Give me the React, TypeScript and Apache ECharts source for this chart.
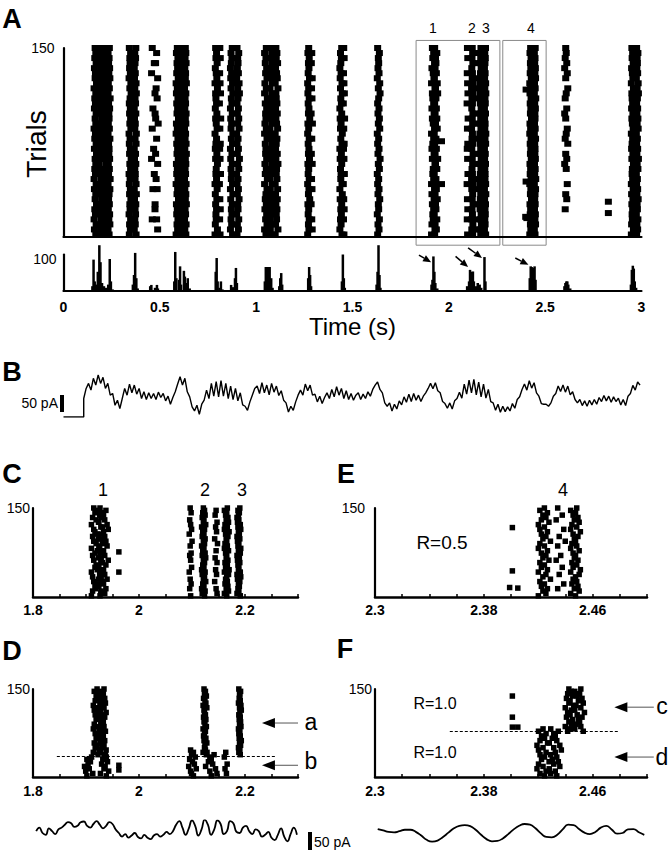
import React, { useEffect, useRef } from "react";
import * as echarts from "echarts";

const FONT = "'Liberation Sans', Arial, Helvetica, sans-serif";

// ---------- tick labels ----------
const A_TIME_INTERVAL = 0.5;
const C_TICK_LABELS = [1.8, 2, 2.2];
const E_TICK_LABELS = [2.3, 2.38, 2.46];

// ---------- hand-read jitter patterns (digit 0..9 = left..right, "." = no spike) ----------
const S0 = "4637254816" + "3527461537" + "2846351726" + "48351726";
const S1 = "5274638152" + "7364925173" + "6482537164" + "92537461";
const S2 = "3648257193" + "4627358164" + "2739546182" + "73645291";
const S3 = "6153748261" + "9374526183" + "5472639185" + "36274815";
const S4 = "2745361849" + "5263748152" + "6394715263" + "84517362";
const S5 = "7364152839" + "4617253948" + "1627354819" + "27463518";
const P0 = "4.6..3.5.7" + ".2..8.4..6" + "3.5..7.2.." + "4.6.3..5";
const P1 = ".5.3..7.4." + "6..2.8..5." + ".3.7..4.6." + ".2..5.7.";
const P2 = "3..6.2...7" + "..4.8.3..." + "5.2..6..4." + "..7.3...";
const U0 = "4536274.85" + "3.624.7538" + ".4625..7.4" + "6.3.....";

// raster columns: [centre time (s), half spread (s), pattern, top trial, bottom trial]
type Col = [number, number, string, number, number];
const A_COLS: Col[] = [
  [0.165, 0.008, S0, 150, 1], [0.19, 0.008, S1, 150, 1], [0.213, 0.008, S2, 150, 1], [0.236, 0.006, S3, 150, 1],
  [0.345, 0.006, S4, 150, 1], [0.372, 0.006, S5, 150, 1],
  [0.466, 0.016, P2, 150, 1], [0.482, 0.012, P1, 150, 1],
  [0.59, 0.007, S1, 150, 1], [0.612, 0.007, S3, 150, 1], [0.633, 0.006, S0, 150, 1],
  [0.792, 0.007, S2, 150, 1], [0.812, 0.005, P0, 150, 1],
  [0.872, 0.007, S5, 150, 1], [0.905, 0.008, S4, 150, 1],
  [1.05, 0.008, S3, 150, 1], [1.078, 0.008, S0, 150, 1], [1.105, 0.008, S2, 150, 1],
  [1.272, 0.006, S1, 150, 1], [1.288, 0.005, P1, 150, 1],
  [1.44, 0.007, S5, 150, 1], [1.455, 0.005, P0, 150, 1],
  [1.635, 0.008, S4, 150, 1],
  [1.918, 0.01, S2, 150, 1], [1.932, 0.01, S4, 150, 1],
  [2.097, 0.004, P0, 150, 1], [2.122, 0.005, S0, 150, 1], [2.145, 0.004, P1, 150, 1],
  [2.165, 0.005, S3, 150, 1], [2.188, 0.004, S5, 150, 1],
  [2.424, 0.005, S1, 150, 1], [2.436, 0.005, P2, 150, 1], [2.447, 0.004, S3, 150, 1],
  [2.608, 0.012, U0, 150, 1],
  [2.952, 0.006, S2, 150, 1], [2.978, 0.006, S4, 150, 1],
];
const A_STRAYS: [number, number][] = [
  [1.962, 76], [1.962, 42], [2.401, 117], [2.401, 44], [2.399, 16], [2.405, 15], [2.828, 28], [2.828, 19],
];

const D_COLS: Col[] = [
  [1.92, 0.008, S1, 150, 37], [1.932, 0.006, S3, 150, 37], [2.124, 0.004, S2, 150, 37], [2.19, 0.003, S4, 150, 37],
  [1.905, 0.01, S5, 34, 1], [1.935, 0.01, S0, 38, 1], [2.1, 0.008, S2, 46, 1], [2.135, 0.012, S4, 42, 1],
  [2.163, 0.006, P1, 46, 1],
];
const D_STRAYS: [number, number][] = [[1.962, 20], [1.962, 12]];

const F_COLS: Col[] = [
  [2.443, 0.004, S0, 150, 76], [2.45, 0.004, S3, 150, 76], [2.423, 0.005, S1, 82, 1], [2.432, 0.005, S4, 82, 1],
];
const F_STRAYS: [number, number][] = [[2.401, 138], [2.401, 102], [2.401, 85], [2.405, 85]];

// PSTH: [time (s), count]
const HIST: [number, number][] = [
  [0.15, 15], [0.156, 98], [0.162, 30], [0.17, 20], [0.178, 60], [0.186, 143], [0.192, 90], [0.2, 25], [0.21, 15],
  [0.22, 10], [0.232, 20], [0.24, 100], [0.246, 30], [0.255, 5],
  [0.36, 20], [0.366, 50], [0.372, 119], [0.378, 40], [0.385, 8],
  [0.45, 15], [0.456, 19], [0.475, 10], [0.485, 19], [0.49, 8],
  [0.575, 30], [0.58, 122], [0.586, 40], [0.6, 35], [0.605, 77], [0.61, 20], [0.625, 63], [0.63, 45], [0.64, 25],
  [0.645, 40], [0.655, 8],
  [0.79, 60], [0.795, 103], [0.8, 30], [0.81, 10], [0.817, 30], [0.825, 5],
  [0.87, 19], [0.88, 12], [0.89, 40], [0.895, 72], [0.9, 25],
  [1.045, 30], [1.05, 75], [1.055, 50], [1.06, 75], [1.065, 60], [1.07, 75], [1.078, 40], [1.085, 10],
  [1.12, 15], [1.125, 40], [1.13, 56], [1.135, 20],
  [1.27, 40], [1.275, 75], [1.28, 50], [1.285, 15],
  [1.445, 30], [1.45, 114], [1.455, 40], [1.46, 10],
  [1.625, 20], [1.63, 60], [1.635, 143], [1.64, 50], [1.645, 10],
  [1.91, 20], [1.915, 35], [1.92, 108], [1.925, 60], [1.93, 25], [1.94, 8],
  [2.095, 15], [2.105, 30], [2.11, 66], [2.115, 60], [2.12, 45], [2.125, 61], [2.13, 30], [2.14, 15], [2.15, 25],
  [2.16, 20], [2.168, 10], [2.185, 106], [2.19, 30],
  [2.42, 40], [2.425, 77], [2.43, 75], [2.435, 70], [2.44, 72], [2.445, 77], [2.45, 35],
  [2.6, 15], [2.605, 25], [2.61, 30], [2.615, 30], [2.62, 20], [2.63, 8],
  [2.828, 3],
  [2.945, 20], [2.95, 66], [2.955, 79], [2.96, 70], [2.965, 30], [2.972, 10],
];
// arrows on PSTH: [t0, n0, t1, n1]
const HIST_ARROWS: [number, number, number, number][] = [
  [1.845, 112, 1.908, 90], [2.035, 108, 2.1, 75], [2.1, 135, 2.172, 103], [2.345, 103, 2.413, 82],
];

// ---------- current traces (pA) ----------
const B_BASELINE: [number, number][] = [[0, 0], [0.105, 0]];
const B_T0 = 0.105;
const B_DT = 0.0125;
const TRACE_B = [
  55, 85, 100, 80, 115, 95, 125, 100, 118, 85, 100, 65, 70, 35, 50, 25, 55,
  85, 65, 98, 72, 95, 68, 85, 55, 75, 52, 72, 55, 70, 52, 74, 58, 70, 48, 62, 38, 58,
  75, 98, 120, 95, 115, 75, 60, 30, 18, 35, 8, 38,
  50, 80, 55, 100, 62, 105, 60, 108, 62, 100, 55, 92, 52, 85, 48, 72, 36, 32, 20, 45,
  65, 85, 92, 70, 102, 72, 95, 66, 100, 74, 92, 64, 78, 50, 42, 15, 32, 20,
  45, 65, 80, 65, 98, 78, 95, 65, 68, 45, 62, 40, 58,
  72, 55, 82, 60, 90, 65, 85, 55, 78, 52, 70, 50, 65, 72, 52, 68, 55, 75, 62, 82, 95, 104, 82,
  72, 42, 32, 42, 18, 38, 24, 48, 36, 60, 44, 68, 46, 70, 50, 65, 46, 62, 72, 85, 100, 84, 102, 78,
  72, 46, 40, 26, 42, 24, 48, 55, 74, 56, 98, 68, 110, 72, 112, 66, 104, 60, 98, 56, 82, 46,
  42, 20, 38, 14, 32, 16, 30, 18, 40, 26, 52, 60, 82, 98, 80, 108, 86, 102, 72,
  62, 40, 38, 38, 32, 42, 62, 70, 92, 76, 95, 74, 92, 66, 75,
  52, 42, 52, 34, 48, 32, 50, 36, 52, 38, 58, 46, 64, 48, 62, 44, 60, 46, 56, 36, 52, 34, 62,
  70, 94, 80, 104, 95,
];
const L_T0 = 1.806;
const L_DT = 0.006;
const TRACE_L = [
  30, 40, 25, 20, 38, 30, 22, 35,
  40, 48, 55, 52, 42, 45, 55, 57, 45, 40, 50, 58, 48, 38, 45, 55, 50, 35, 25,
  15, 22, 12, 18, 25, 14, 10, 20, 12, 8, 18, 22, 15, 20, 28, 22,
  30, 48, 58, 40, 20, 38, 60, 45, 18, 35, 62, 48, 20, 35, 60, 50, 22, 30, 58, 52, 28, 25,
  40, 45, 30, 22, 35, 30, 15, 20, 28, 12,
  5, 20, 38, 15, 2, 22, 40, 20,
];
const R_T0 = 2.302;
const R_DT = 0.004;
const TRACE_R = [
  36, 32, 28, 27, 30, 34, 34, 28, 18, 6, 1, 4, 14, 26, 38, 45, 47, 44, 34, 20, 8, 2, 3, 10, 22,
  35, 45, 50, 48, 38, 24, 14, 13, 20, 35, 48, 47, 36, 26, 22, 28, 40, 45, 35, 23, 25, 35, 36, 27, 20,
];

// ---------- helpers ----------
function raster(cols: Col[], strays: [number, number][], tMin: number, tMax: number) {
  const pts: number[][] = [];
  for (const [t, spread, pat, top, bottom] of cols) {
    for (let i = 0; i < pat.length; i++) {
      const trial = top - 4 * i;
      if (trial < bottom) break;
      const ch = pat[i];
      if (ch === ".") continue;
      const x = t + ((Number(ch) - 4.5) / 4.5) * spread;
      if (x >= tMin && x <= tMax) pts.push([x, trial]);
    }
  }
  for (const [t, trial] of strays) if (t >= tMin && t <= tMax) pts.push([t, trial]);
  return pts;
}
const sampled = (t0: number, dt: number, vals: number[]) => vals.map((v, i) => [t0 + dt * i, v]);
const labelOnly = (labels: number[]) => (v: number) =>
  labels.some((l) => Math.abs(l - v) < 1e-6) ? String(+v.toFixed(2)) : "";

const BLACK = "#000";

function rasterY(gridIndex: number, margin: number) {
  return {
    type: "value", gridIndex, min: 0, max: 150, interval: 150, position: "left",
    axisLine: { show: true, onZero: false, lineStyle: { color: BLACK, width: 2.2 } },
    axisTick: { show: false }, splitLine: { show: false },
    axisLabel: { formatter: (v: number) => (v === 150 ? "150" : ""), fontSize: 14, color: BLACK, margin, fontFamily: FONT },
  };
}
function zoomX(gridIndex: number, min: number, max: number, interval: number, labels: number[], margin: number) {
  return {
    type: "value", gridIndex, min, max, interval,
    axisLine: { show: true, onZero: false, lineStyle: { color: BLACK, width: 2.5 } },
    axisTick: { show: true, inside: true, length: 3, lineStyle: { color: BLACK, width: 1.5 } },
    splitLine: { show: false },
    axisLabel: { formatter: labelOnly(labels), fontSize: 14, fontWeight: "bold", color: BLACK, margin, fontFamily: FONT },
  };
}
const hiddenAxis = (gridIndex: number, min: number, max: number) => ({
  type: "value", gridIndex, min, max, show: false, splitLine: { show: false },
});
const rasterSeries = (idx: number, data: number[][], size: number[] | number, extra: any = {}) => ({
  type: "scatter", xAxisIndex: idx, yAxisIndex: idx, data, symbol: "rect", symbolSize: size,
  itemStyle: { color: BLACK, opacity: 1 }, silent: true, ...extra,
});
const dashLine = (t0: number, t1: number, trial: number) => ({
  silent: true, symbol: "none", label: { show: false },
  lineStyle: { color: BLACK, type: [3, 2], width: 1.2 },
  data: [[{ coord: [t0, trial] }, { coord: [t1, trial] }]],
});
const gridAt = (left: number, top: number, width: number, height: number) => ({
  left, top, width, height, containLabel: false, outerBoundsMode: "none",
});

export default function App() {
  const ref = useRef<HTMLDivElement>(null);
  useEffect(() => {
    document.body.style.margin = "0";
    const chart = echarts.init(ref.current!, null, { renderer: "svg" });
    const option: any = {
      animation: false,
      textStyle: { fontFamily: FONT },
      grid: [
        gridAt(63.5, 48, 578, 189),
        gridAt(63.5, 254.5, 578, 36.5),
        gridAt(63.5, 375, 578, 42),
        gridAt(33, 508, 265, 89),
        gridAt(375, 508, 272, 89),
        gridAt(33, 689, 265, 88),
        gridAt(375, 689, 272, 88),
        gridAt(33, 820.4, 265, 21.6),
        gridAt(375, 824, 272, 18),
      ],
      xAxis: [
        { type: "value", gridIndex: 0, min: 0, max: 3, axisLine: { show: true, onZero: false, lineStyle: { color: BLACK, width: 2.2 } },
          axisTick: { show: false }, axisLabel: { show: false }, splitLine: { show: false } },
        { type: "value", gridIndex: 1, min: 0, max: 3, interval: A_TIME_INTERVAL,
          axisLine: { show: true, onZero: false, lineStyle: { color: BLACK, width: 2.2 } },
          axisTick: { show: false }, splitLine: { show: false },
          axisLabel: { fontSize: 14, fontWeight: "bold", color: BLACK, margin: 9, fontFamily: FONT },
          name: "Time (s)", nameLocation: "middle", nameGap: 21,
          nameTextStyle: { fontSize: 24, color: BLACK, fontFamily: FONT, verticalAlign: "top" } },
        hiddenAxis(2, 0, 3),
        zoomX(3, 1.8, 2.3, 0.05, C_TICK_LABELS, 6),
        zoomX(4, 2.3, 2.5, 0.02, E_TICK_LABELS, 6),
        zoomX(5, 1.8, 2.3, 0.05, C_TICK_LABELS, 7),
        zoomX(6, 2.3, 2.5, 0.02, E_TICK_LABELS, 7),
        hiddenAxis(7, 1.8, 2.3),
        hiddenAxis(8, 2.3, 2.5),
      ],
      yAxis: [
        rasterY(0, 9),
        { type: "value", gridIndex: 1, min: 0, max: 114, interval: 100, position: "left",
          axisLine: { show: true, onZero: false, lineStyle: { color: BLACK, width: 2.2 } },
          axisTick: { show: false }, splitLine: { show: false },
          axisLabel: { formatter: (v: number) => (v === 100 ? "100" : ""), fontSize: 14, color: BLACK, margin: 7, fontFamily: FONT } },
        hiddenAxis(2, 0, 125),
        rasterY(3, 3),
        rasterY(4, 10),
        rasterY(5, 3),
        rasterY(6, 3),
        hiddenAxis(7, 0, 60),
        hiddenAxis(8, 0, 50),
      ],
      series: [
        rasterSeries(0, raster(A_COLS, A_STRAYS, 0, 3), [7, 6]),
        { type: "bar", xAxisIndex: 1, yAxisIndex: 1, data: HIST, barWidth: 2.5, clip: false, silent: true,
          itemStyle: { color: BLACK } },
        { type: "line", xAxisIndex: 2, yAxisIndex: 2, showSymbol: false, silent: true,
          data: [...B_BASELINE, ...sampled(B_T0, B_DT, TRACE_B)], lineStyle: { color: BLACK, width: 1.4 } },
        rasterSeries(3, raster(A_COLS, A_STRAYS, 1.8, 2.3), 5.5),
        rasterSeries(4, raster(A_COLS, A_STRAYS, 2.3, 2.5), 5.5),
        rasterSeries(5, raster(D_COLS, D_STRAYS, 1.8, 2.3), 5.5, { markLine: dashLine(1.845, 2.26, 36) }),
        rasterSeries(6, raster(F_COLS, F_STRAYS, 2.3, 2.5), 5.5, { markLine: dashLine(2.355, 2.48, 78) }),
        { type: "line", xAxisIndex: 7, yAxisIndex: 7, showSymbol: false, silent: true, smooth: true,
          data: sampled(L_T0, L_DT, TRACE_L), lineStyle: { color: BLACK, width: 1.8 } },
        { type: "line", xAxisIndex: 8, yAxisIndex: 8, showSymbol: false, silent: true, smooth: true,
          data: sampled(R_T0, R_DT, TRACE_R), lineStyle: { color: BLACK, width: 1.8 } },
      ],
    };
    chart.setOption(option);

    const px = (g: number, p: number[]) => chart.convertToPixel({ gridIndex: g } as any, p) as number[];
    const txt = (text: string, x: number, y: number, size: number, bold = false, align = "center", rotation = 0) => ({
      type: "text", x, y, rotation, silent: true,
      style: { text, fontSize: size, fontWeight: bold ? "bold" : "normal", fontFamily: FONT, fill: BLACK,
        align, textAlign: align, verticalAlign: "middle", textVerticalAlign: "middle" },
    });
    const arrow = (g: number, a: number[], color: string, lw: number, L: number, W: number) => {
      const p0 = px(g, [a[0], a[1]]);
      const p1 = px(g, [a[2], a[3]]);
      const dx = p1[0] - p0[0], dy = p1[1] - p0[1];
      const len = Math.hypot(dx, dy) || 1;
      const ux = dx / len, uy = dy / len;
      const bx = p1[0] - ux * L, by = p1[1] - uy * L;
      const nx = -uy * W / 2, ny = ux * W / 2;
      return [
        { type: "line", silent: true, shape: { x1: p0[0], y1: p0[1], x2: bx, y2: by }, style: { stroke: color, lineWidth: lw } },
        { type: "polygon", silent: true, shape: { points: [[p1[0], p1[1]], [bx + nx, by + ny], [bx - nx, by - ny]] }, style: { fill: BLACK } },
      ];
    };
    const BOXES: [number, number][] = [[1.83, 2.265], [2.28, 2.505]];
    const boxRects = BOXES.map(([t0, t1]) => {
      const a = px(0, [t0, 156]);
      const b = px(0, [t1, -6.5]);
      return { type: "rect", silent: true, shape: { x: a[0], y: a[1], width: b[0] - a[0], height: b[1] - a[1] },
        style: { fill: "none", stroke: "#8a8a8a", lineWidth: 1 } };
    });
    const LETTER_ARROWS: [number, number[]][] = [
      [5, [2.3, 92, 2.232, 92]], [5, [2.3, 20, 2.232, 20]],
      [6, [2.505, 119, 2.476, 119]], [6, [2.505, 34, 2.476, 34]],
    ];
    const graphics: any[] = [
      txt("A", 12, 19, 27, true), txt("B", 12, 372, 27, true), txt("C", 12, 474, 27, true),
      txt("D", 12, 651, 27, true), txt("E", 346, 474, 27, true), txt("F", 345, 649, 27, true),
      txt("Trials", 36, 144, 28, false, "center", Math.PI / 2),
      txt("1", 433, 28, 14), txt("2", 472, 28, 14), txt("3", 486, 28, 14), txt("4", 531, 28, 14),
      txt("1", 103, 490, 18), txt("2", 205, 490, 18), txt("3", 242, 490, 18), txt("4", 563, 490, 18),
      txt("R=0.5", 442, 542, 19), txt("R=1.0", 435, 703, 16), txt("R=1.0", 435, 752, 16),
      txt("a", 311, 722, 23), txt("b", 311, 761, 23), txt("c", 662, 706, 23), txt("d", 662, 757, 23),
      txt("50 pA", 58, 403, 14, false, "right"),
      { type: "rect", silent: true, shape: { x: 60, y: 395, width: 4, height: 17 }, style: { fill: BLACK } },
      { type: "rect", silent: true, shape: { x: 308, y: 832, width: 4, height: 18 }, style: { fill: BLACK } },
      txt("50 pA", 314, 842, 14, false, "left"),
      ...boxRects,
    ];
    HIST_ARROWS.forEach((a) => graphics.push(...arrow(1, a, BLACK, 1.5, 8, 7)));
    LETTER_ARROWS.forEach(([g, a]) => graphics.push(...arrow(g, a, "#555", 1, 13, 10)));
    chart.setOption({ graphic: graphics });
    return () => chart.dispose();
  }, []);
  return <div ref={ref} style={{ width: 670, height: 852 }} />;
}
